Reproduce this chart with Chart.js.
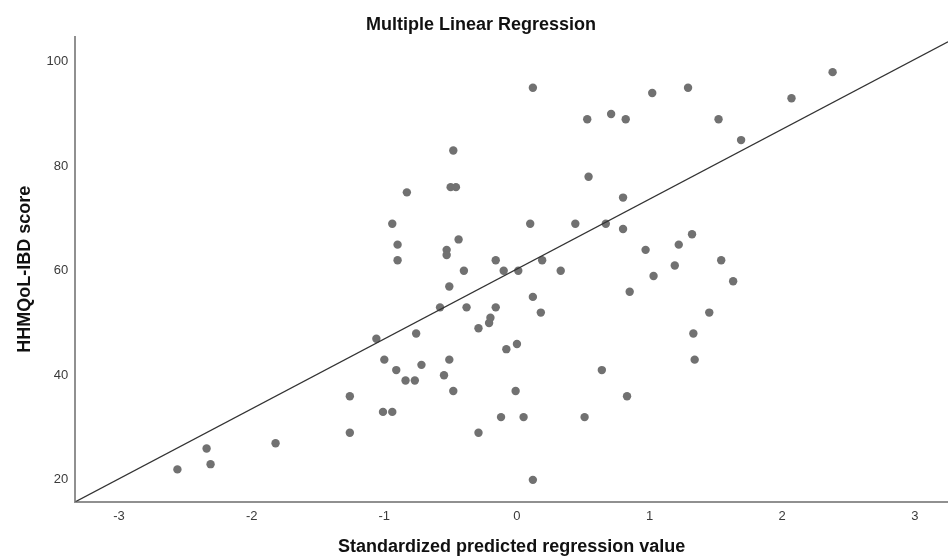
<!DOCTYPE html>
<html>
<head>
<meta charset="utf-8">
<script src="https://cdn.jsdelivr.net/npm/chart.js@4"></script>
<style>
  html, body { margin: 0; padding: 0; background: #fff; }
  #wrap { width: 948px; height: 557px; }
</style>
</head>
<body>
<div id="wrap"><canvas id="chart" width="948" height="557"></canvas></div>
<script>
// standardized predicted value (x) and HHMQoL-IBD score (y)
const predicted = [
  -2.56, -2.34, -2.31, -1.82, -1.26, -1.26, -1.06, -1.00, -0.91, -0.84, -0.77, -0.76,
  -0.72, -1.01, -0.94, -0.51, -0.58, -0.38, -0.29, -0.51, -0.55, -0.48, -0.29,
  -0.83, -0.50, -0.46, -0.48, -0.94, -0.90, -0.90, -0.44, -0.53, -0.53, -0.40, -0.16, -0.10,
  -0.16, -0.20, -0.21, -0.08, 0.00, -0.12, 0.05, -0.01, 0.12, 0.51,
  0.01, 0.19, 0.33, 0.12, 0.18,
  0.64, 0.83, 0.85, 0.97, 1.03, 1.19, 1.22, 1.32, 1.45, 1.33, 1.34, 1.54, 1.63,
  0.12, 1.02, 1.29, 0.53, 0.71, 0.82, 1.52, 0.54, 0.80, 0.10, 0.44, 0.67, 0.80, 2.07, 2.38, 1.69
];
const scores = [
  22, 26, 23, 27, 36, 29, 47, 43, 41, 39, 39, 48,
  42, 33, 33, 57, 53, 53, 49, 43, 40, 37, 29,
  75, 76, 76, 83, 69, 65, 62, 66, 64, 63, 60, 62, 60,
  53, 51, 50, 45, 46, 32, 32, 37, 20, 32,
  60, 62, 60, 55, 52,
  41, 36, 56, 64, 59, 61, 65, 67, 52, 48, 43, 62, 58,
  95, 94, 95, 89, 90, 89, 89, 78, 74, 69, 69, 69, 68, 93, 98, 85
];

// fitted line end points, where it meets the frame
const fitX = [-3.33, 3.25];
const fitY = [15.8, 103.8];

const xTicks = [-3, -2, -1, 0, 1, 2, 3];
const yTicks = [20, 40, 60, 80, 100];

const points = predicted.map((x, i) => ({ x: x, y: scores[i] }));
const fitLine = fitX.map((x, i) => ({ x: x, y: fitY[i] }));

const font = 'Arial, "Liberation Sans", sans-serif';

new Chart(document.getElementById('chart'), {
  type: 'scatter',
  data: {
    datasets: [
      {
        label: 'Fit',
        type: 'line',
        data: fitLine,
        borderColor: '#333333',
        borderWidth: 1.3,
        pointRadius: 0,
        fill: false
      },
      {
        label: 'HHMQoL-IBD score',
        data: points,
        backgroundColor: '#717171',
        borderWidth: 0,
        pointRadius: 4.2,
        pointHoverRadius: 4.2
      }
    ]
  },
  options: {
    responsive: false,
    animation: false,
    layout: { autoPadding: false, padding: { left: 14, right: 0, top: 0, bottom: -1 } },
    plugins: {
      legend: { display: false },
      tooltip: { enabled: false },
      title: {
        display: true,
        text: 'Multiple Linear Regression',
        color: '#111',
        font: { family: font, size: 18, weight: 'bold' },
        padding: { top: 14, bottom: 1 }
      }
    },
    scales: {
      x: {
        type: 'linear',
        min: -3.33,
        max: 3.25,
        afterBuildTicks: axis => { axis.ticks = xTicks.map(v => ({ value: v })); },
        grid: { display: false, drawTicks: false },
        border: { display: true, color: '#909090', width: 2 },
        ticks: { color: '#3a3a3a', font: { family: font, size: 13 }, padding: 7 },
        title: {
          display: true,
          text: 'Standardized predicted regression value',
          color: '#111',
          font: { family: font, size: 18, weight: 'bold' },
          padding: { top: 5, bottom: 0 }
        }
      },
      y: {
        type: 'linear',
        min: 15.8,
        max: 104.8,
        afterBuildTicks: axis => { axis.ticks = yTicks.map(v => ({ value: v })); },
        grid: { display: false, drawTicks: false },
        border: { display: true, color: '#909090', width: 2 },
        ticks: { color: '#3a3a3a', font: { family: font, size: 13 }, padding: 7 },
        title: {
          display: true,
          text: 'HHMQoL-IBD score',
          color: '#111',
          font: { family: font, size: 18, weight: 'bold' },
          padding: { top: 0, bottom: 4 }
        }
      }
    }
  }
});
</script>
</body>
</html>
